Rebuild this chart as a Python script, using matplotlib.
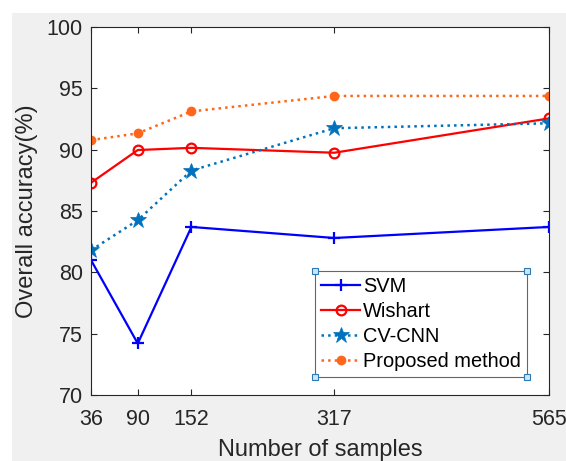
import matplotlib
matplotlib.use("Agg")
import matplotlib.pyplot as plt
from matplotlib.patches import Rectangle

plt.rcParams['font.family'] = ['Liberation Sans', 'DejaVu Sans']

samples = [36, 90, 152, 317, 565]
svm = [81.0, 74.2, 83.7, 82.8, 83.7]
wishart = [87.3, 89.97, 90.15, 89.75, 92.55]
cvcnn = [81.8, 84.25, 88.3, 91.75, 92.15]
proposed = [90.78, 91.33, 93.12, 94.38, 94.38]
y_ticks = [70, 75, 80, 85, 90, 95, 100]

W, H = 566, 461
fig = plt.figure(figsize=(W / 100, H / 100), dpi=100, facecolor='#f0f0f0')

# white margin along the top and left edges
fig.patches.append(Rectangle((0, 1 - 13 / H), 1, 13 / H, transform=fig.transFigure,
                             facecolor='white', edgecolor='none', zorder=0))
fig.patches.append(Rectangle((0, 0), 12 / W, 1, transform=fig.transFigure,
                             facecolor='white', edgecolor='none', zorder=0))

ax = fig.add_axes([91 / W, (H - 395) / H, (549 - 91) / W, (395 - 27) / H])
ax.set_facecolor('white')

ax.plot(samples, svm, color='#0000ff', lw=1.6, marker='+', ms=8, mew=1.6, label='SVM')
ax.plot(samples, wishart, color='#ff0000', lw=1.6, marker='o', ms=7, mfc='none', mew=1.6, label='Wishart')
ax.plot(samples, cvcnn, color='#0072bd', lw=1.8, ls=':', marker='*', ms=12, mew=0.5, label='CV-CNN')
ax.plot(samples, proposed, color='#ff6619', lw=1.8, ls=':', marker='o', ms=6, label='Proposed method')

ax.set_xlim(36, 565)
ax.set_ylim(70, 100)
ax.set_xticks(samples)
ax.set_yticks(y_ticks)
ax.tick_params(direction='in', top=True, right=True, labelsize=15.5, colors='#262626',
               length=4, width=0.8)
ax.tick_params(axis='x', pad=10)
ax.tick_params(axis='y', pad=6)
for s in ax.spines.values():
    s.set_color('#262626')
    s.set_linewidth(0.8)
ax.set_xlabel('Number of samples', fontsize=17, color='#262626', labelpad=6.5)
ax.set_ylabel('Overall accuracy(%)', fontsize=17, color='#262626', labelpad=6)

leg = ax.legend(loc='lower right', bbox_to_anchor=((527 - 91) / (549 - 91), (395 - 377) / (395 - 27)),
                fontsize=14.4, frameon=True, fancybox=False, handlelength=1.95, handletextpad=0.15,
                borderpad=0.3, labelspacing=0.3, borderaxespad=0)
leg.get_frame().set_edgecolor('#404040')
leg.get_frame().set_linewidth(0.8)

# selection handles on the legend corners
fig.canvas.draw()
bb = leg.get_window_extent().transformed(fig.transFigure.inverted())
hw, hh = 6 / W, 6 / H
for cx, cy in [(bb.x0, bb.y0), (bb.x1, bb.y0), (bb.x0, bb.y1), (bb.x1, bb.y1)]:
    fig.patches.append(Rectangle((cx - hw / 2, cy - hh / 2), hw, hh, transform=fig.transFigure,
                                 facecolor='#cde6f7', edgecolor='#2b79b6', lw=0.8, zorder=10))

fig.savefig('out.png', dpi=100, facecolor=fig.get_facecolor())
